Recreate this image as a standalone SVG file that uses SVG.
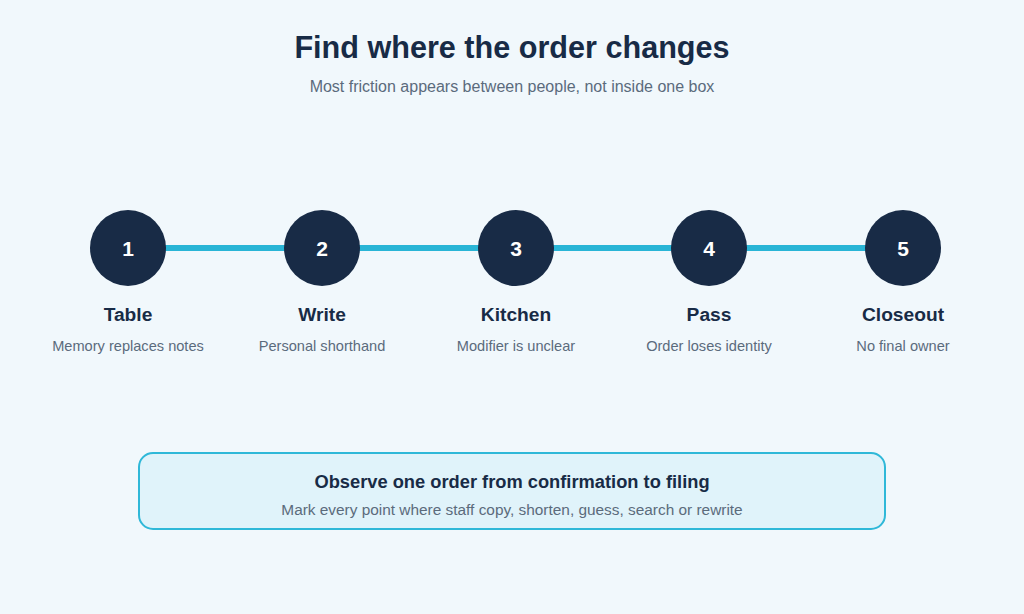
<svg xmlns="http://www.w3.org/2000/svg" width="1024" height="614" viewBox="0 0 1024 614">
<style>
text{font-family:"Liberation Sans",Arial,sans-serif;text-anchor:middle}
.title{font-size:30.6px;font-weight:bold;fill:#182b46}
.sub{font-size:16px;fill:#5b6b7c}
.num{font-size:21px;font-weight:bold;fill:#ffffff}
.lbl{font-size:19.2px;font-weight:bold;fill:#182b46}
.desc{font-size:14.6px;fill:#5b6b7c}
.dot{fill:#182b46}
.link{stroke:#29b5d6;stroke-width:6}
</style>
<rect width="1024" height="614" fill="#f1f8fc"/>
<text class="title" x="512" y="58">Find where the order changes</text>
<text class="sub" x="512" y="92">Most friction appears between people, not inside one box</text>
<g id="connectors">
<line class="link" x1="128" y1="248" x2="903" y2="248"/>
</g>
<g id="node1"><circle class="dot" cx="128" cy="248" r="38"/><text class="num" x="128" y="256">1</text><text class="lbl" x="128" y="321">Table</text><text class="desc" x="128" y="351">Memory replaces notes</text></g>
<g id="node2"><circle class="dot" cx="322" cy="248" r="38"/><text class="num" x="322" y="256">2</text><text class="lbl" x="322" y="321">Write</text><text class="desc" x="322" y="351">Personal shorthand</text></g>
<g id="node3"><circle class="dot" cx="516" cy="248" r="38"/><text class="num" x="516" y="256">3</text><text class="lbl" x="516" y="321">Kitchen</text><text class="desc" x="516" y="351">Modifier is unclear</text></g>
<g id="node4"><circle class="dot" cx="709" cy="248" r="38"/><text class="num" x="709" y="256">4</text><text class="lbl" x="709" y="321">Pass</text><text class="desc" x="709" y="351">Order loses identity</text></g>
<g id="node5"><circle class="dot" cx="903" cy="248" r="38"/><text class="num" x="903" y="256">5</text><text class="lbl" x="903" y="321">Closeout</text><text class="desc" x="903" y="351">No final owner</text></g>
<g id="note">
<rect x="139" y="453" width="746" height="76" rx="14" fill="#e0f3fa" stroke="#2fb8d8" stroke-width="2"/>
<text x="512" y="488" style="font-size:18.3px;font-weight:bold;fill:#182b46">Observe one order from confirmation to filing</text>
<text class="desc" x="512" y="515" style="font-size:15.4px">Mark every point where staff copy, shorten, guess, search or rewrite</text>
</g>
</svg>
